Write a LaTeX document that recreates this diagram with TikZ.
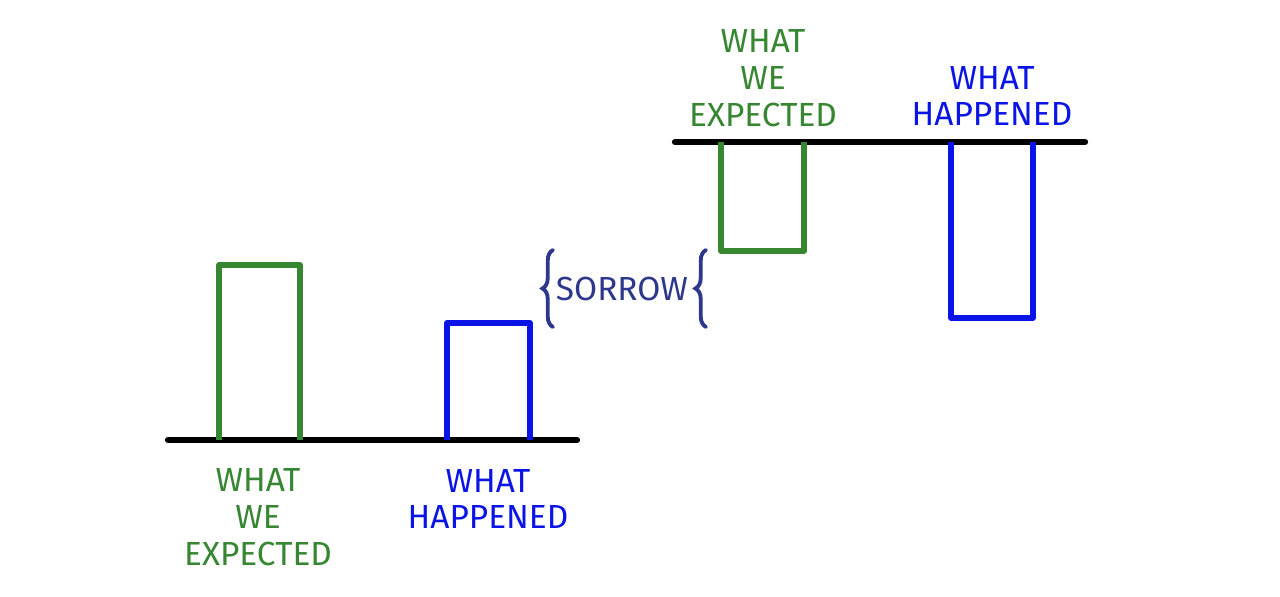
\documentclass[tikz,border=0pt]{standalone}
\usepackage{fontspec}
\setmainfont{Fira Sans}
\usetikzlibrary{decorations.pathreplacing}
\definecolor{verde}{RGB}{55,135,50}
\definecolor{azul}{RGB}{10,20,230}
\definecolor{pena}{RGB}{45,55,140}

\begin{document}
\begin{tikzpicture}[x=0.02cm,y=-0.02cm,
  suelo/.style={line width=3.6pt, line cap=round},
  barra/.style={line width=3pt, line join=round},
  etiqueta/.style={align=center, inner sep=0pt, font=\fontsize{19}{21}\selectfont},
  llave/.style={pena, line width=2.2pt, line cap=round, decorate,
    decoration={brace, amplitude=6pt}}]
  \useasboundingbox (0,0) rectangle (1280,597);

  % Suelos
  \draw[suelo] (168,440) -- (577,440);
  \draw[suelo] (675,142) -- (1085,142);

  % Barras de abajo
  \draw[barra, verde] (219,440) -- (219,265) -- (300,265) -- (300,440);
  \draw[barra, azul] (447,440) -- (447,323) -- (530,323) -- (530,440);

  % Barras de arriba (colgando)
  \draw[barra, verde] (721,142) -- (721,251) -- (804,251) -- (804,142);
  \draw[barra, azul] (951,142) -- (951,318) -- (1033,318) -- (1033,142);

  % Etiquetas
  \node[etiqueta, verde] (esperado) at (258,517) {WHAT\\WE\\EXPECTED};
  \node[etiqueta, azul] (paso) at (488,499) {WHAT\\HAPPENED};
  \node[etiqueta, verde] (esperadoB) at (763,78) {WHAT\\WE\\EXPECTED};
  \node[etiqueta, azul] (pasoB) at (992,96) {WHAT\\HAPPENED};

  % Pena entre llaves
  \node[etiqueta, pena] (pena) at (622,289) {SORROW};
  \draw[llave] (553,327) -- (553,250);
  \draw[llave] (706,327) -- (706,250);
\end{tikzpicture}
\end{document}
